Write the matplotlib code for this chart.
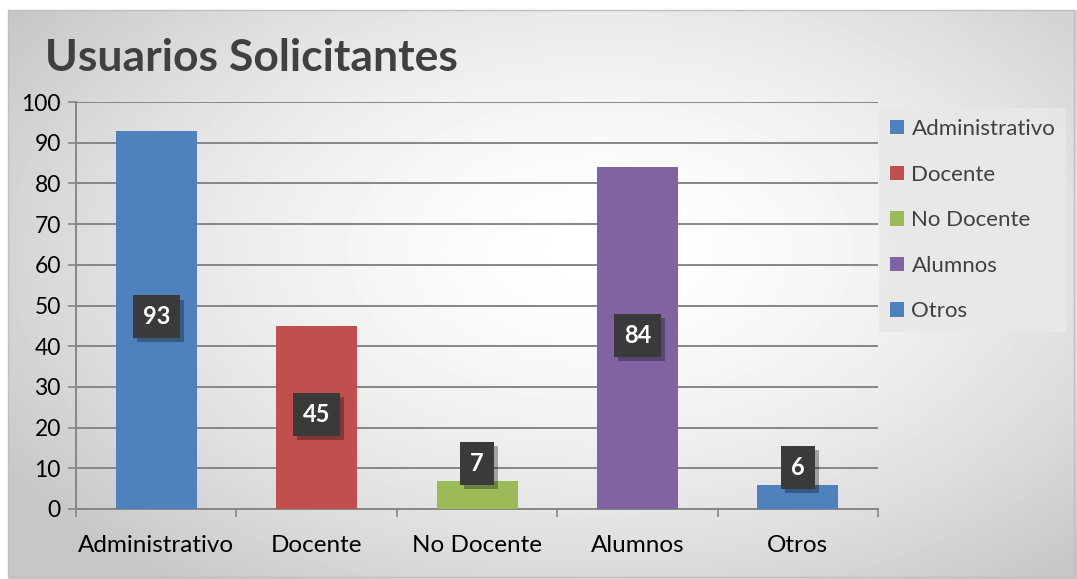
import numpy as np
import matplotlib
matplotlib.use("Agg")
import matplotlib.pyplot as plt
import matplotlib.patheffects as pe
from matplotlib.patches import Rectangle, Patch

# chart data
categorias = ["Administrativo", "Docente", "No Docente", "Alumnos", "Otros"]
valores = [93, 45, 7, 84, 6]
colores = ["#4f81bd", "#c0504d", "#9bbb59", "#8064a2", "#4f81bd"]

plt.rcParams["font.family"] = ["Lato", "DejaVu Sans"]

fig = plt.figure(figsize=(10.77, 5.79), dpi=100)

# background: soft radial gradient like the office chart style
bg = fig.add_axes([0, 0, 1, 1], zorder=-10)
yy, xx = np.mgrid[0:579, 0:1077]
r = np.sqrt(((xx - 600) / 700.0) ** 2 + ((yy - 250) / 420.0) ** 2)
shade = np.clip(1.0 - 0.22 * r ** 1.6, 0.78, 1.0)
bg.imshow(shade, cmap="gray", vmin=0, vmax=1, extent=[0, 1077, 579, 0], aspect="auto")
bg.set_xlim(0, 1077)
bg.set_ylim(579, 0)
bg.axis("off")
# plain white outside the frame
bg.add_patch(Rectangle((0, 0), 1077, 9, color="white", zorder=2))
bg.add_patch(Rectangle((0, 0), 7, 579, color="white", zorder=2))
bg.add_patch(Rectangle((8, 10), 1066, 567, fill=False, ec="#bfbfbf", lw=1, zorder=3))

ax = fig.add_axes([0.0706, 0.1209, 0.7446, 0.7029])
ax.set_facecolor("none")

x = np.arange(len(categorias))
ax.bar(x, valores, width=0.505, color=colores, zorder=3)

ax.set_xlim(-0.5, len(categorias) - 0.5)
ax.set_ylim(0, 100)
ax.set_yticks(np.arange(0, 101, 10))
ax.set_xticks(x)
ax.set_xticklabels(categorias, fontsize=17.5)
ax.set_xticks(np.arange(-0.5, len(categorias)), minor=True)
ax.tick_params(axis="x", which="major", length=0, pad=19)
ax.tick_params(axis="x", which="minor", length=6, color="#868686", width=1.2)
ax.tick_params(axis="y", length=6, color="#868686", width=1.2, labelsize=16.5, pad=5)
ax.grid(axis="y", color="#868686", lw=1.4, zorder=1)
for s in ["top", "right"]:
    ax.spines[s].set_visible(False)
for s in ["left", "bottom"]:
    ax.spines[s].set_color("#868686")
    ax.spines[s].set_linewidth(1.4)

# data labels in dark boxes, centred in tall bars, just above short ones
for xi, v in zip(x, valores):
    yl = v / 2 if v / 2 >= 10 else v + 3.5
    t = ax.text(xi, yl + 0.7, str(v), ha="center", va="center", color="white",
                fontsize=17, fontweight="bold", zorder=5,
                bbox=dict(boxstyle="square,pad=0.42", fc="#3a3a3a", ec="none"))
    t.get_bbox_patch().set_path_effects(
        [pe.SimplePatchShadow(offset=(3, -3), shadow_rgbFace="black", alpha=0.3), pe.Normal()])

fig.text(0.042, 0.900, "Usuarios Solicitantes", fontsize=32, fontweight="bold",
         color="#404040", ha="left", va="center")

handles = [Patch(facecolor=c, edgecolor="none") for c in colores]
leg = fig.legend(handles, categorias, loc="upper left",
                 bbox_to_anchor=(0.816, 0.8135), fontsize=16, frameon=True,
                 handlelength=0.62, handleheight=0.62, handletextpad=0.35,
                 labelspacing=1.15, borderpad=0.5, borderaxespad=0, fancybox=False)
leg.get_frame().set_facecolor("#e8e8e8")
leg.get_frame().set_edgecolor("none")
leg.get_frame().set_alpha(0.9)
for t in leg.get_texts():
    t.set_color("#404040")

fig.savefig("out.png", dpi=100)
